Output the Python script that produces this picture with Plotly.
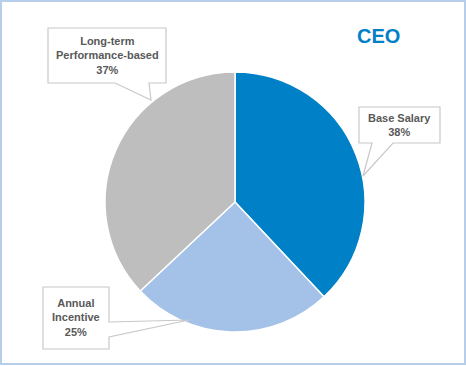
import plotly.graph_objects as go

categories = ["Base Salary", "Annual Incentive", "Long-term Performance-based"]
values = [38, 25, 37]
colors = ["#0080C6", "#A4C2E8", "#BFBEBE"]
label_texts = ["Base Salary<br>38%", "Annual<br>Incentive<br>25%", "Long-term<br>Performance-based<br>37%"]
title_text = "CEO"

W, H = 466, 366

def px(x, y):
    return x / W, 1 - y / H

def path(points):
    pts = [px(x, y) for x, y in points]
    s = "M " + " L ".join(f"{a:.5f},{b:.5f}" for a, b in pts) + " Z"
    return s

fig = go.Figure()
x0, y0 = px(105, 332)
x1, y1 = px(365, 72)
fig.add_trace(go.Pie(
    labels=categories, values=values, sort=False, direction="clockwise", rotation=0,
    marker=dict(colors=colors, line=dict(color="white", width=1.5)),
    textinfo="none", hoverinfo="label+percent", showlegend=False,
    domain=dict(x=[x0, x1], y=[y0, y1]),
))

bubbles = [
    [(359, 107), (440, 107), (440, 143), (393, 143), (363, 176), (372, 143), (359, 143)],
    [(43, 287), (109, 287), (109, 322), (189, 320), (109, 337), (109, 349), (43, 349)],
    [(48, 28), (166, 28), (166, 83), (149, 83), (151, 100), (115, 83), (48, 83)],
]
shapes = []
for b in bubbles:
    shapes.append(dict(type="path", xref="paper", yref="paper", path=path(b),
                       fillcolor="white", line=dict(color="#C8C8C8", width=1.2), layer="above"))
# outer border
bx0, by0 = px(1, 364)
bx1, by1 = px(465, 1)
shapes.append(dict(type="rect", xref="paper", yref="paper", x0=bx0, y0=by0, x1=bx1, y1=by1,
                   line=dict(color="#B7CEEA", width=2), fillcolor="rgba(0,0,0,0)"))

label_pos = [(399, 125), (76, 317), (107, 55)]
annotations = []
for t, (x, y) in zip(label_texts, label_pos):
    ax, ay = px(x, y)
    annotations.append(dict(x=ax, y=ay, xref="paper", yref="paper", text="<b>" + t + "</b>", showarrow=False,
                            font=dict(family="Liberation Sans, Arial", size=11, color="#595959"),
                            align="center", xanchor="center", yanchor="middle"))
tx, ty = px(378, 36)
annotations.append(dict(x=tx, y=ty, xref="paper", yref="paper", text="<b>" + title_text + "</b>",
                        showarrow=False, font=dict(family="Liberation Sans, Arial", size=20, color="#0080C6"),
                        xanchor="center", yanchor="middle"))

fig.update_layout(width=W, height=H, margin=dict(l=0, r=0, t=0, b=0),
                  paper_bgcolor="white", plot_bgcolor="white",
                  shapes=shapes, annotations=annotations)
fig.write_html("out.html", config={"displayModeBar": False},
               post_script="document.body.style.margin='0px';")
